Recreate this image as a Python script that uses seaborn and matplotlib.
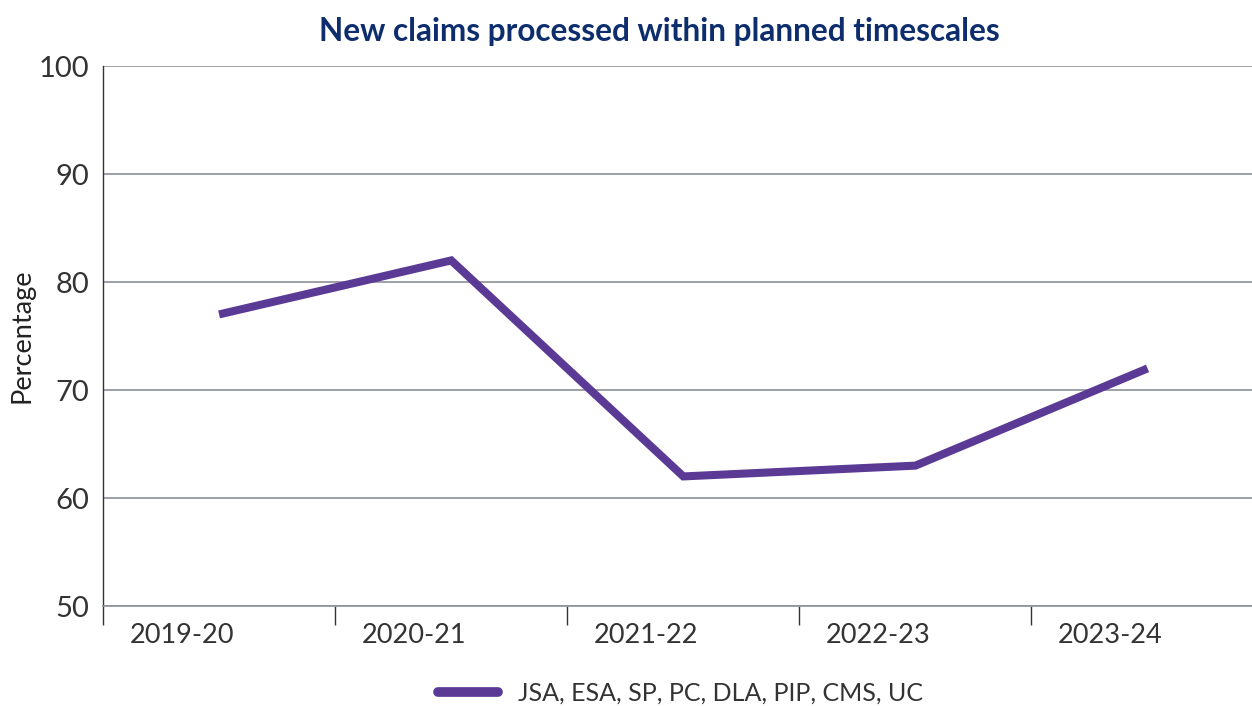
import matplotlib
matplotlib.use("Agg")
import matplotlib.pyplot as plt
import seaborn as sns
import pandas as pd
import numpy as np

years = ["2019-20", "2020-21", "2021-22", "2022-23", "2023-24"]
values = [77, 82, 62, 63, 72]
series_name = "JSA, ESA, SP, PC, DLA, PIP, CMS, UC"
title = "New claims processed within planned timescales"
y_ticks = [50, 60, 70, 80, 90, 100]

sns.set_theme(style="white")
plt.rcParams['font.family'] = ['Lato', 'DejaVu Sans']

df = pd.DataFrame({"pos": np.arange(len(years)), "value": values, "series": series_name})

fig = plt.figure(figsize=(12.52, 7.06), dpi=100)
ax = fig.add_axes([0.0823, 0.1416, 0.9177, 0.7649])
purple = "#5b3a96"
sns.lineplot(data=df, x="pos", y="value", hue="series", palette=[purple],
             linewidth=5.8, ax=ax)
for ln in ax.get_lines():
    ln.set_solid_joinstyle("miter")
    ln.set_solid_capstyle("butt")

ax.set_ylim(50, 100)
ax.set_xlim(-0.5, 4.45)
ax.set_yticks(y_ticks)
ax.set_yticklabels([str(t) for t in y_ticks], fontsize=21, color="#333333")
pos = np.arange(len(years))
ax.set_xticks(pos - 0.16)
ax.set_xticklabels(years, fontsize=19.5, color="#333333")
ax.tick_params(axis="x", which="major", length=0, pad=12)
ax.tick_params(axis="y", which="major", length=0, pad=10)
ax.set_xticks(pos - 0.5, minor=True)
ax.tick_params(axis="x", which="minor", bottom=True, length=14, width=1, color="#333333", direction="out")
ax.set_xlabel("")
ax.set_ylabel("Percentage", fontsize=19.5, color="#222222", labelpad=3)
ax.grid(axis="y", color="#8c9098", linewidth=1.2)
for s in ["top", "right"]:
    ax.spines[s].set_visible(False)
ax.spines["bottom"].set_color("#8c9098")
ax.spines["bottom"].set_linewidth(1.2)
ax.spines["left"].set_color("#333333")
ax.spines["left"].set_linewidth(1)
fig.text(659 / 1252, 1 - 32 / 706, title, fontsize=22.7, fontweight="bold", color="#0d2d6c",
         ha="center", va="center")

leg = ax.legend(loc="center", bbox_to_anchor=(0.585 - 0.0823, -0.162), frameon=False,
                fontsize=18, handlelength=2.4, handletextpad=0.8)
for t in leg.get_texts():
    t.set_color("#333333")
for l in leg.get_lines():
    l.set_linewidth(7)
    l.set_solid_capstyle("round")

fig.savefig("out.png", dpi=100)
